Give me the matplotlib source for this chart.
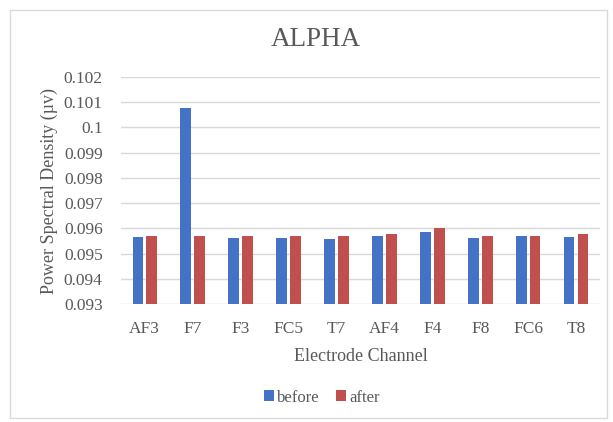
import numpy as np
import matplotlib.pyplot as plt
from matplotlib.patches import Rectangle

channels = ['AF3', 'F7', 'F3', 'FC5', 'T7', 'AF4', 'F4', 'F8', 'FC6', 'T8']
before = [0.09568, 0.10078, 0.09563, 0.09563, 0.09560, 0.09572, 0.09588, 0.09563, 0.09572, 0.09568]
after = [0.09570, 0.09570, 0.09570, 0.09570, 0.09570, 0.09578, 0.09600, 0.09570, 0.09570, 0.09578]
yticks = [0.093, 0.094, 0.095, 0.096, 0.097, 0.098, 0.099, 0.1, 0.101, 0.102]

plt.rcParams['font.family'] = ['Liberation Serif', 'DejaVu Serif']
grey = '#595959'

fig = plt.figure(figsize=(6.13, 4.22), dpi=100)
ax = fig.add_axes([0.197, 0.279, 0.782, 0.5386])

x = np.arange(len(channels))
w = 0.22
ax.bar(x - 0.145, np.array(before) - 0.093, w, bottom=0.093, color='#4472C4', label='before', zorder=3)
ax.bar(x + 0.145, np.array(after) - 0.093, w, bottom=0.093, color='#C0504D', label='after', zorder=3)

ax.set_xlim(-0.5, len(channels) - 0.5)
ax.set_ylim(0.093, 0.102)
ax.set_yticks(yticks)
ax.set_yticklabels(['%g' % v for v in yticks])
ax.set_xticks(x)
ax.set_xticklabels(channels)
ax.tick_params(length=0, labelsize=12.5, colors=grey)
ax.tick_params(axis='y', pad=13)
ax.tick_params(axis='x', pad=12)
ax.grid(axis='y', color='#d9d9d9', linewidth=1, zorder=0)
for s in ax.spines.values():
    s.set_visible(False)

fig.text(0.515, 1 - 39 / 422, 'ALPHA', fontsize=19.5, color=grey, ha='center', va='center')
ax.set_ylabel('Power Spectral Density (\u00b5v)', fontsize=13, color=grey, labelpad=4)
ax.set_xlabel('Electrode Channel', fontsize=13, color=grey, labelpad=8)

fig.legend(loc='center', bbox_to_anchor=(0.525, 0.058), ncol=2, frameon=False,
           handlelength=0.6, handleheight=0.6, handletextpad=0.2, columnspacing=1.0,
           fontsize=12, labelcolor=grey)

fig.patches.append(Rectangle((10 / 613, 4 / 422), 597 / 613, 408 / 422, transform=fig.transFigure,
                             fill=False, edgecolor='#d9d9d9', linewidth=1))

fig.savefig('out.png', dpi=100)
